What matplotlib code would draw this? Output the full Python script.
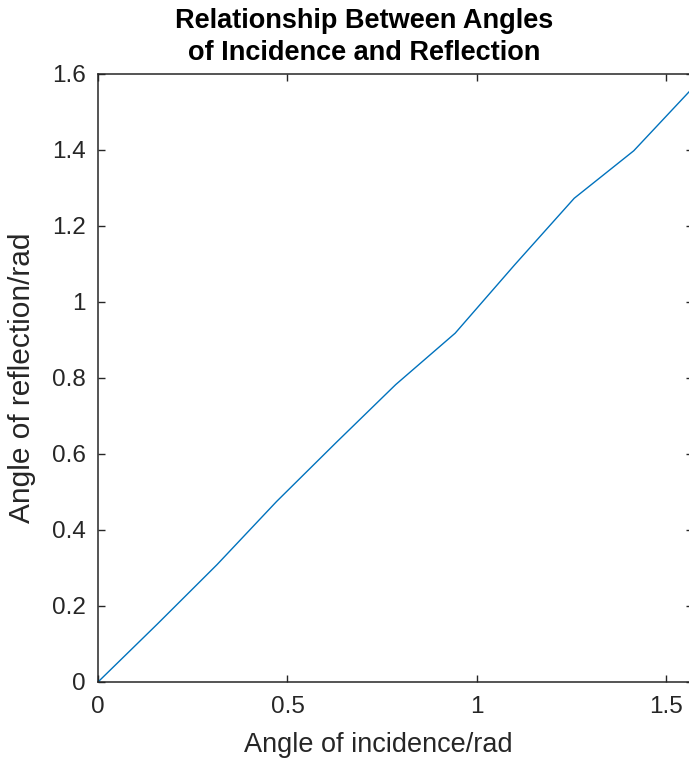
import numpy as np
import matplotlib
matplotlib.use("Agg")
import matplotlib.pyplot as plt

# data
incidence = [0.0, 0.1571, 0.3142, 0.4712, 0.6283, 0.7854, 0.9425, 1.0996, 1.2566, 1.4137, 1.5708]
reflection = [0.0, 0.153, 0.309, 0.475, 0.630, 0.7825, 0.918, 1.098, 1.273, 1.398, 1.565]
xticks = [0, 0.5, 1, 1.5]
xticklabels = ["0", "0.5", "1", "1.5"]
yticks = [0, 0.2, 0.4, 0.6, 0.8, 1.0, 1.2, 1.4, 1.6]
yticklabels = ["0", "0.2", "0.4", "0.6", "0.8", "1", "1.2", "1.4", "1.6"]

plt.rcParams['font.family'] = ['Liberation Sans', 'DejaVu Sans']
W, H = 689, 760
fig = plt.figure(figsize=(W / 100, H / 100), dpi=100)
axc = '#262626'
left, right, bottom, top = 98, 693.3, 682, 74
ax = fig.add_axes([left / W, 1 - bottom / H, (right - left) / W, (bottom - top) / H])
ax.plot(incidence, reflection, color='#0072BD', lw=1.0)
ax.set_xlim(0, np.pi / 2)
ax.set_ylim(0, 1.6)
ax.set_xticks(xticks)
ax.set_xticklabels(xticklabels)
ax.set_yticks(yticks)
ax.set_yticklabels(yticklabels)
for s in ax.spines.values():
    s.set_color(axc)
    s.set_linewidth(1.1)
ax.tick_params(direction='in', length=5, width=1.0, colors=axc, labelsize=17.5,
               top=True, right=True)
ax.tick_params(axis='x', pad=10)
ax.tick_params(axis='y', pad=9)
fig.text(378.5 / W, 1 - 745 / H, "Angle of incidence/rad", ha='center', va='center',
         fontsize=19.5, color=axc)
fig.text(22 / W, 1 - 378 / H, "Angle of reflection/rad", ha='center', va='center',
         rotation=90, fontsize=21.5, color=axc)
fig.text(364 / W, 1 - 37 / H, "Relationship Between Angles\nof Incidence and Reflection",
         ha='center', va='center', fontsize=19.5, fontweight='bold', color='black',
         linespacing=1.3)
fig.savefig("out.png", dpi=100)
